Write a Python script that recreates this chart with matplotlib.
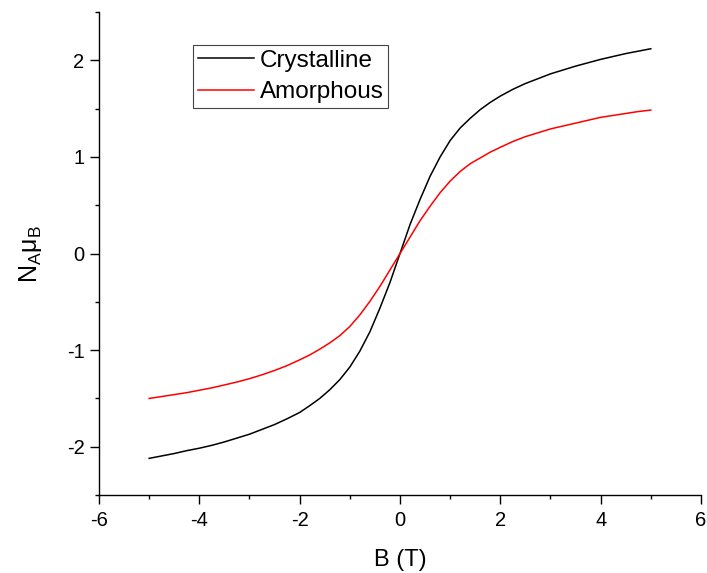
import matplotlib
matplotlib.use("Agg")
import matplotlib.pyplot as plt
from matplotlib.ticker import MultipleLocator

plt.rcParams['font.family'] = ['Liberation Sans', 'DejaVu Sans']
plt.rcParams['mathtext.fontset'] = 'custom'
plt.rcParams['mathtext.rm'] = 'Liberation Sans'
plt.rcParams['mathtext.it'] = 'Liberation Sans'
plt.rcParams['axes.unicode_minus'] = False

B_field = [-5, -4.75, -4.5, -4.25, -4, -3.75, -3.5, -3.25, -3, -2.75, -2.5, -2.25, -2,
           -1.8, -1.6, -1.4, -1.2, -1.0, -0.8, -0.6, -0.4, -0.2, 0,
           0.2, 0.4, 0.6, 0.8, 1.0, 1.2, 1.4, 1.6, 1.8,
           2, 2.25, 2.5, 2.75, 3, 3.25, 3.5, 3.75, 4, 4.25, 4.5, 4.75, 5]
crystalline = [-2.12, -2.095, -2.07, -2.04, -2.015, -1.985, -1.95, -1.91, -1.87, -1.82, -1.77, -1.71, -1.645,
               -1.575, -1.50, -1.41, -1.305, -1.175, -1.01, -0.81, -0.565, -0.30, 0.0,
               0.30, 0.56, 0.80, 1.00, 1.17, 1.30, 1.40, 1.49, 1.565,
               1.63, 1.70, 1.76, 1.81, 1.86, 1.90, 1.94, 1.975, 2.01, 2.04, 2.07, 2.095, 2.12]
amorphous = [-1.50, -1.48, -1.46, -1.44, -1.415, -1.39, -1.36, -1.33, -1.295, -1.255, -1.21, -1.16, -1.10,
             -1.05, -0.99, -0.925, -0.85, -0.755, -0.635, -0.495, -0.34, -0.17, 0.0,
             0.17, 0.34, 0.49, 0.63, 0.75, 0.85, 0.93, 0.99, 1.05,
             1.10, 1.16, 1.21, 1.25, 1.29, 1.32, 1.35, 1.38, 1.41, 1.43, 1.45, 1.47, 1.485]

fig = plt.figure(figsize=(7.07, 5.73), dpi=100)
ax = fig.add_axes([0.140, 0.136, 0.8515, 0.843])

ax.plot(B_field, crystalline, color='black', lw=1.1, label='Crystalline')
ax.plot(B_field, amorphous, color='#ff0000', lw=1.1, label='Amorphous')

ax.set_xlim(-6, 6)
ax.set_ylim(-2.5, 2.5)
ax.xaxis.set_major_locator(MultipleLocator(2))
ax.xaxis.set_minor_locator(MultipleLocator(1))
ax.yaxis.set_major_locator(MultipleLocator(1))
ax.yaxis.set_minor_locator(MultipleLocator(0.5))
ax.spines['top'].set_visible(False)
ax.spines['right'].set_visible(False)
for s in ('left', 'bottom'):
    ax.spines[s].set_linewidth(1.0)
ax.tick_params(which='major', direction='out', length=6.5, width=1.0, labelsize=14.5)
ax.tick_params(axis='x', which='major', pad=5)
ax.tick_params(axis='y', which='major', pad=4)
ax.tick_params(which='minor', direction='out', length=3.2, width=1.0)

ax.set_xlabel('B (T)', fontsize=17, labelpad=14)
ax.set_ylabel(r'N$_\mathrm{A}$$\mathrm{\mu}_\mathrm{B}$', fontsize=18, labelpad=16)

leg = ax.legend(loc='upper left', bbox_to_anchor=(0.156, 0.932), borderaxespad=0,
                fancybox=False, edgecolor='#444444', framealpha=1, fontsize=17.5,
                handlelength=2.3, handletextpad=0.25, borderpad=0.2, labelspacing=0.4)
leg.get_frame().set_linewidth(0.8)

fig.savefig('out.png', dpi=100)
